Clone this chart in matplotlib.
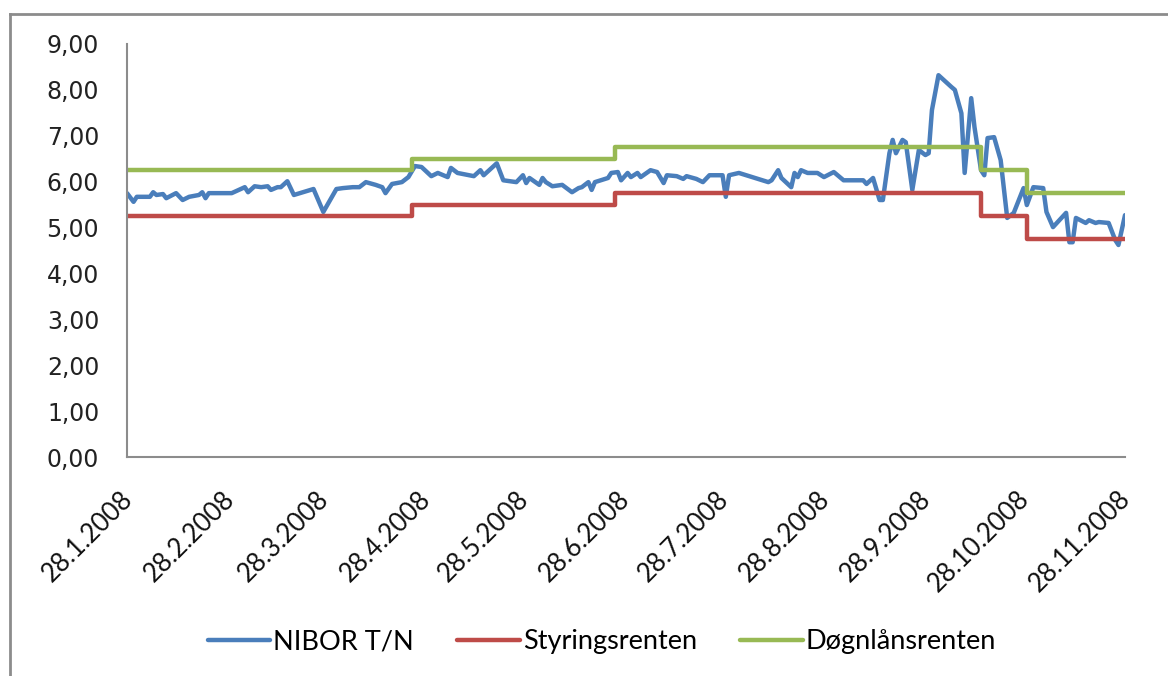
import matplotlib
matplotlib.use("Agg")
import matplotlib.pyplot as plt
import matplotlib.transforms as mtransforms
from matplotlib.lines import Line2D
import pandas as pd

# NIBOR T/N
nibor_dates = [
    "2008-01-28", "2008-01-30", "2008-01-31", "2008-02-04", "2008-02-05", "2008-02-06",
    "2008-02-08", "2008-02-09", "2008-02-12", "2008-02-14", "2008-02-16", "2008-02-19",
    "2008-02-20", "2008-02-21", "2008-02-22", "2008-02-29", "2008-03-04", "2008-03-05",
    "2008-03-07", "2008-03-09", "2008-03-11", "2008-03-12", "2008-03-14", "2008-03-15",
    "2008-03-17", "2008-03-19", "2008-03-25", "2008-03-28", "2008-04-01", "2008-04-03",
    "2008-04-06", "2008-04-08", "2008-04-10", "2008-04-13", "2008-04-15", "2008-04-16",
    "2008-04-18", "2008-04-21", "2008-04-23", "2008-04-25", "2008-04-27", "2008-04-30",
    "2008-05-02", "2008-05-05", "2008-05-06", "2008-05-08", "2008-05-13", "2008-05-15",
    "2008-05-16", "2008-05-20", "2008-05-22", "2008-05-26", "2008-05-28", "2008-05-29",
    "2008-05-30", "2008-06-02", "2008-06-03", "2008-06-04", "2008-06-06", "2008-06-09",
    "2008-06-12", "2008-06-14", "2008-06-15", "2008-06-17", "2008-06-18", "2008-06-19",
    "2008-06-23", "2008-06-24", "2008-06-26", "2008-06-27", "2008-06-29", "2008-06-30",
    "2008-07-02", "2008-07-03", "2008-07-06", "2008-07-08", "2008-07-10", "2008-07-11",
    "2008-07-14", "2008-07-16", "2008-07-17", "2008-07-20", "2008-07-22", "2008-07-24",
    "2008-07-28", "2008-07-29", "2008-07-30", "2008-08-02", "2008-08-06", "2008-08-11",
    "2008-08-12", "2008-08-14", "2008-08-15", "2008-08-18", "2008-08-19", "2008-08-20",
    "2008-08-21", "2008-08-23", "2008-08-26", "2008-08-28", "2008-08-31", "2008-09-03",
    "2008-09-04", "2008-09-09", "2008-09-10", "2008-09-12", "2008-09-14", "2008-09-15",
    "2008-09-17", "2008-09-18", "2008-09-19", "2008-09-21", "2008-09-22", "2008-09-24",
    "2008-09-26", "2008-09-28", "2008-09-29", "2008-09-30", "2008-10-02", "2008-10-06",
    "2008-10-07", "2008-10-09", "2008-10-10", "2008-10-12", "2008-10-13", "2008-10-15",
    "2008-10-16", "2008-10-17", "2008-10-19", "2008-10-21", "2008-10-23", "2008-10-25",
    "2008-10-28", "2008-10-29", "2008-10-31", "2008-11-03", "2008-11-04", "2008-11-06",
    "2008-11-10", "2008-11-11", "2008-11-12", "2008-11-13", "2008-11-16", "2008-11-17",
    "2008-11-19", "2008-11-20", "2008-11-23", "2008-11-25", "2008-11-26", "2008-11-28",
]
nibor = [
    5.75, 5.56, 5.67, 5.67, 5.77, 5.71,
    5.73, 5.64, 5.75, 5.60, 5.67, 5.71,
    5.77, 5.64, 5.75, 5.75, 5.88, 5.77,
    5.90, 5.88, 5.90, 5.82, 5.88, 5.88,
    6.01, 5.71, 5.84, 5.34, 5.84, 5.86,
    5.88, 5.88, 5.99, 5.93, 5.88, 5.75,
    5.95, 5.99, 6.10, 6.34, 6.32, 6.12,
    6.19, 6.10, 6.30, 6.19, 6.12, 6.25,
    6.14, 6.40, 6.03, 5.99, 6.14, 5.97,
    6.08, 5.93, 6.08, 5.99, 5.90, 5.93,
    5.77, 5.86, 5.88, 5.99, 5.82, 5.99,
    6.08, 6.19, 6.21, 6.03, 6.19, 6.10,
    6.19, 6.10, 6.25, 6.21, 5.97, 6.14,
    6.12, 6.06, 6.12, 6.06, 5.99, 6.14,
    6.14, 5.67, 6.14, 6.19, 6.10, 5.99,
    6.03, 6.25, 6.08, 5.88, 6.19, 6.10,
    6.25, 6.19, 6.19, 6.10, 6.21, 6.03,
    6.03, 6.03, 5.95, 6.08, 5.60, 5.60,
    6.62, 6.91, 6.62, 6.91, 6.86, 5.82,
    6.69, 6.58, 6.62, 7.56, 8.32, 8.06,
    8.00, 7.49, 6.19, 7.82, 7.19, 6.25,
    6.14, 6.95, 6.97, 6.47, 5.21, 5.32,
    5.86, 5.49, 5.88, 5.86, 5.34, 5.01,
    5.32, 4.68, 4.68, 5.21, 5.10, 5.16,
    5.10, 5.12, 5.10, 4.73, 4.62, 5.27,
]

# policy rate and overnight lending rate, dates where the level changes
step_dates = ["2008-01-28", "2008-04-24", "2008-06-25", "2008-10-15", "2008-10-29", "2008-11-28"]
styringsrenten = [5.25, 5.50, 5.75, 5.25, 4.75, 4.75]
dognlansrenten = [6.25, 6.50, 6.75, 6.25, 5.75, 5.75]

tick_dates = ["2008-01-28", "2008-02-28", "2008-03-28", "2008-04-28", "2008-05-28", "2008-06-28",
              "2008-07-28", "2008-08-28", "2008-09-28", "2008-10-28", "2008-11-28"]
y_ticks = [0, 1, 2, 3, 4, 5, 6, 7, 8, 9]

labels = ["NIBOR T/N", "Styringsrenten", "Døgnlånsrenten"]
colors = ["#4A7EBB", "#BE4B48", "#98B954"]

nd = pd.to_datetime(nibor_dates)
sd = pd.to_datetime(step_dates)
td = pd.to_datetime(tick_dates)

fig = plt.figure(figsize=(11.68, 6.76), dpi=100)
ax = fig.add_axes([127 / 1168, 1 - 457 / 676, (1125 - 127) / 1168, (457 - 44) / 676])

kw = dict(lw=3.2, solid_capstyle="round", solid_joinstyle="round")
ax.plot(nd, nibor, color=colors[0], label=labels[0], **kw)
ax.plot(sd, styringsrenten, color=colors[1], label=labels[1], drawstyle="steps-post", **kw)
ax.plot(sd, dognlansrenten, color=colors[2], label=labels[2], drawstyle="steps-post", **kw)

ax.set_xlim(td[0], td[-1])
ax.set_ylim(0, 9)
ax.set_yticks(y_ticks)
ax.set_yticklabels([f"{v:.2f}".replace(".", ",") for v in y_ticks],
                   family="DejaVu Sans", fontsize=17, color="#222222")
ax.set_xticks(td)
ax.set_xticklabels([f"{d.day}.{d.month}.{d.year}" for d in td],
                   rotation=45, ha="right", va="top", rotation_mode="anchor",
                   family="Lato", fontsize=18.5, color="#111111")
ax.tick_params(axis="y", length=0, pad=20)
ax.tick_params(axis="x", length=0, pad=21)

# nudge the slanted date labels a bit to the left
shift = mtransforms.ScaledTranslation(-7 / 100, 0, fig.dpi_scale_trans)
for lab in ax.get_xticklabels():
    lab.set_transform(lab.get_transform() + shift)

for s in ["top", "right"]:
    ax.spines[s].set_visible(False)
for s in ["left", "bottom"]:
    ax.spines[s].set_color("#8c8c8c")
    ax.spines[s].set_linewidth(1.5)

fig.legend(loc="center", bbox_to_anchor=(602 / 1168, 1 - 642 / 676), ncol=3,
           frameon=False, handlelength=2.3, columnspacing=1.6, handletextpad=0.12,
           prop={"family": "Lato", "size": 19.5})

# outer chart border (only left and top are inside the crop)
fig.add_artist(Line2D([10 / 1168, 10 / 1168], [0, 1 - 14 / 676], transform=fig.transFigure,
                      color="#8c8c8c", lw=2))
fig.add_artist(Line2D([10 / 1168, 1], [1 - 14 / 676, 1 - 14 / 676], transform=fig.transFigure,
                      color="#8c8c8c", lw=2))

fig.savefig("out.png", dpi=100)
